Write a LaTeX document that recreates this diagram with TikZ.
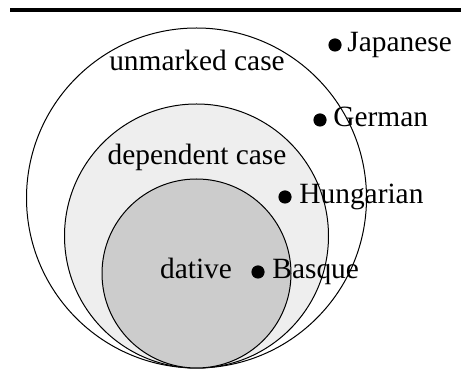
\documentclass[tikz,border=0pt]{standalone}
\usepackage{fontspec}
\setmainfont{Liberation Serif}
\definecolor{midfill}{HTML}{EEEEEE}
\definecolor{innerfill}{HTML}{CCCCCC}
\begin{document}
\begin{tikzpicture}[x=0.5pt,y=-0.5pt,
  ring/.style={circle, draw=black, line width=0.5pt, inner sep=0pt},
  setlabel/.style={font=\fontsize{14.7pt}{17pt}\selectfont, anchor=base, inner sep=0pt},
  langdot/.style={circle, fill=black, inner sep=0pt, minimum size=6.6pt},
  langname/.style={font=\fontsize{14.7pt}{17pt}\selectfont, anchor=base west, inner sep=0pt}]
\useasboundingbox (0,0) rectangle (461,389);
% top rule
\draw[line width=2pt] (10,10) -- (461,10);
% nested sets, all touching at the bottom
\node[ring, fill=white, minimum size=170pt] (unmarked) at (196.5,198) {};
\node[ring, fill=midfill, minimum size=132pt] (dependent) at (196.5,236) {};
\node[ring, fill=innerfill, minimum size=94.5pt] (dative) at (196.5,273.5) {};
% set labels
\node[setlabel] (unmarkedlbl) at (197,71) {unmarked case};
\node[setlabel] (dependentlbl) at (197,165) {dependent case};
\node[setlabel] (dativelbl) at (196,279) {dative};
% languages
\node[langdot] (jpdot) at (335,45) {};
\node[langname] (jp) at (347,52) {Japanese};
\node[langdot] (dedot) at (320,120) {};
\node[langname] (de) at (333,127) {German};
\node[langdot] (hudot) at (285,197) {};
\node[langname] (hu) at (299,204) {Hungarian};
\node[langdot] (eudot) at (258,272) {};
\node[langname] (eu) at (272,279) {Basque};
\end{tikzpicture}
\end{document}
